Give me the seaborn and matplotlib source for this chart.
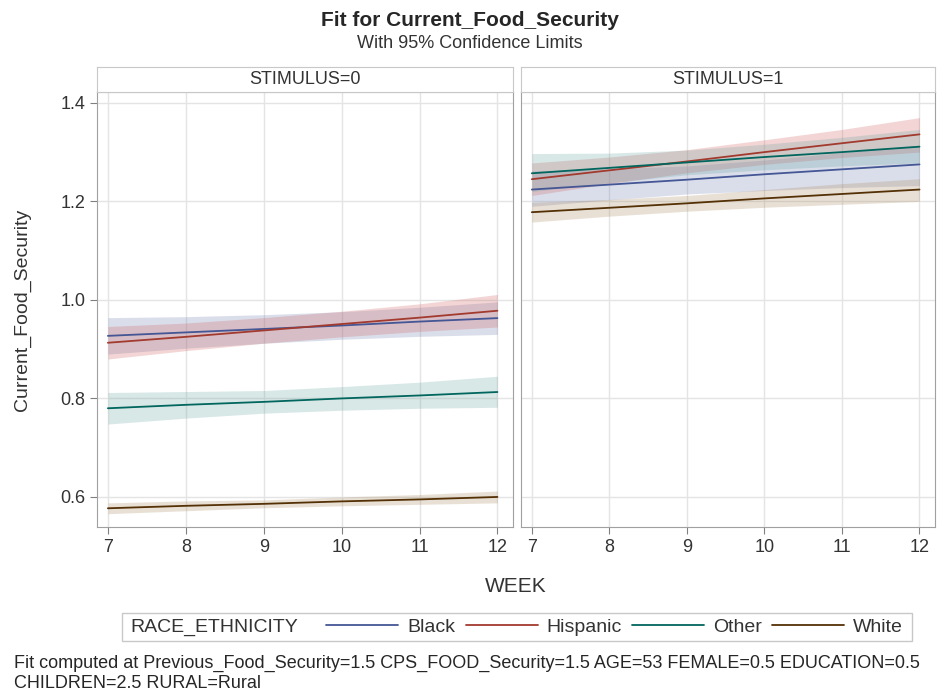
import numpy as np
import pandas as pd
import matplotlib.pyplot as plt
import seaborn as sns
from matplotlib.patches import Rectangle

weeks = [7, 8, 9, 10, 11, 12]
races = ['Black', 'Hispanic', 'Other', 'White']

# fitted values, STIMULUS=0
fit0 = {
    'Black':    [0.927, 0.934, 0.941, 0.948, 0.956, 0.963],
    'Hispanic': [0.913, 0.925, 0.938, 0.951, 0.964, 0.978],
    'Other':    [0.780, 0.787, 0.793, 0.800, 0.806, 0.813],
    'White':    [0.577, 0.582, 0.586, 0.591, 0.595, 0.600],
}
lo0 = {
    'Black':    [0.890, 0.902, 0.912, 0.920, 0.926, 0.930],
    'Hispanic': [0.880, 0.897, 0.912, 0.925, 0.936, 0.945],
    'Other':    [0.748, 0.760, 0.770, 0.776, 0.780, 0.782],
    'White':    [0.566, 0.572, 0.578, 0.582, 0.585, 0.588],
}
hi0 = {
    'Black':    [0.964, 0.966, 0.970, 0.976, 0.985, 0.996],
    'Hispanic': [0.946, 0.953, 0.964, 0.977, 0.992, 1.011],
    'Other':    [0.812, 0.814, 0.816, 0.824, 0.833, 0.845],
    'White':    [0.588, 0.592, 0.594, 0.600, 0.605, 0.612],
}
# fitted values, STIMULUS=1
fit1 = {
    'Black':    [1.224, 1.234, 1.244, 1.255, 1.265, 1.275],
    'Hispanic': [1.245, 1.263, 1.281, 1.300, 1.318, 1.336],
    'Other':    [1.257, 1.268, 1.279, 1.290, 1.300, 1.311],
    'White':    [1.178, 1.187, 1.196, 1.206, 1.215, 1.224],
}
lo1 = {
    'Black':    [1.190, 1.203, 1.215, 1.222, 1.228, 1.232],
    'Hispanic': [1.212, 1.236, 1.258, 1.275, 1.289, 1.300],
    'Other':    [1.220, 1.238, 1.254, 1.264, 1.272, 1.278],
    'White':    [1.158, 1.170, 1.180, 1.188, 1.194, 1.200],
}
hi1 = {
    'Black':    [1.262, 1.266, 1.272, 1.284, 1.299, 1.314],
    'Hispanic': [1.278, 1.290, 1.305, 1.325, 1.346, 1.370],
    'Other':    [1.297, 1.298, 1.304, 1.316, 1.330, 1.346],
    'White':    [1.198, 1.204, 1.212, 1.224, 1.236, 1.246],
}

line_colors = {'Black': '#445694', 'Hispanic': '#A23A2E', 'Other': '#01665E', 'White': '#543005'}
band_colors = {'Black': '#6F7EB3', 'Hispanic': '#D05B5B', 'Other': '#66A5A0', 'White': '#A9865B'}

rows = []
for stim, fit, lo, hi in [(0, fit0, lo0, hi0), (1, fit1, lo1, hi1)]:
    for r in races:
        for i, w in enumerate(weeks):
            rows.append({'STIMULUS': stim, 'RACE_ETHNICITY': r, 'WEEK': w,
                         'fit': fit[r][i], 'lo': lo[r][i], 'hi': hi[r][i]})
df = pd.DataFrame(rows)

sns.set_style('white')
plt.rcParams['font.family'] = ['Liberation Sans', 'DejaVu Sans']

fig = plt.figure(figsize=(9.42, 6.95), dpi=100)
W, H = 942, 695
panels = [(97, 513), (521, 935)]
top, bottom, strip = 92, 527, 25
txt = '#333333'

for k, (x0, x1) in enumerate(panels):
    ax = fig.add_axes([x0 / W, 1 - bottom / H, (x1 - x0) / W, (bottom - top) / H])
    sub = df[df.STIMULUS == k]
    for r in races:
        s = sub[sub.RACE_ETHNICITY == r]
        ax.fill_between(s.WEEK, s.lo, s.hi, color=band_colors[r], alpha=0.25, lw=0)
    sns.lineplot(data=sub, x='WEEK', y='fit', hue='RACE_ETHNICITY', palette=line_colors,
                 hue_order=races, ax=ax, lw=1.3, legend=False)
    ax.set_xlim(6.86, 12.2)
    ax.set_ylim(0.539, 1.422)
    ax.set_xticks(weeks)
    ax.set_yticks([0.6, 0.8, 1.0, 1.2, 1.4])
    ax.grid(True, color='#e4e4e4', lw=1)
    ax.set_axisbelow(True)
    for sp in ax.spines.values():
        sp.set_color('#a0a0a0')
    ax.tick_params(axis='both', which='both', direction='out', length=5, color='#808080',
                   labelsize=13, labelcolor=txt, bottom=True, left=True)
    ax.set_xlabel('')
    ax.set_ylabel('')
    if k == 0:
        ax.set_yticklabels(['0.6', '0.8', '1.0', '1.2', '1.4'])
    else:
        ax.tick_params(axis='y', left=False, labelleft=False)
    # header strip
    sax = fig.add_axes([x0 / W, 1 - top / H, (x1 - x0) / W, strip / H])
    sax.set_xticks([])
    sax.set_yticks([])
    for sp in sax.spines.values():
        sp.set_color('#c8c8c8')
    sax.text(0.5, 0.5, f'STIMULUS={k}', ha='center', va='center', fontsize=13, color=txt)

fig.text(470 / W, 1 - 20 / H, 'Fit for Current_Food_Security', ha='center', va='center',
         fontsize=15, fontweight='bold')
fig.text(470 / W, 1 - 43 / H, 'With 95% Confidence Limits', ha='center', va='center',
         fontsize=13, color=txt)
fig.text(22 / W, 1 - 310 / H, 'Current_Food_Security', rotation=90, ha='center', va='center',
         fontsize=14, color=txt)
fig.text(516 / W, 1 - 586 / H, 'WEEK', ha='center', va='center', fontsize=15, color=txt)

# legend: frame, title, entries
fig.patches.append(Rectangle((122 / W, 1 - 641 / H), 790 / W, 28 / H, transform=fig.transFigure,
                             fill=False, edgecolor='#c8c8c8', lw=1))
fig.text(130 / W, 1 - 627 / H, 'RACE_ETHNICITY', ha='left', va='center', fontsize=14, color=txt)
handles = [plt.Line2D([], [], color=line_colors[r], lw=1.3) for r in races]
fig.legend(handles, races, loc='center right', bbox_to_anchor=(905 / W, 1 - 627 / H),
           ncol=4, frameon=False, fontsize=14, handlelength=3.7, columnspacing=0.55,
           handletextpad=0.45, borderpad=0.1, borderaxespad=0, labelcolor=txt)

fig.text(14 / W, 1 - 663 / H,
         'Fit computed at Previous_Food_Security=1.5 CPS_FOOD_Security=1.5 AGE=53 FEMALE=0.5 EDUCATION=0.5',
         ha='left', va='center', fontsize=13)
fig.text(14 / W, 1 - 684 / H, 'CHILDREN=2.5 RURAL=Rural', ha='left', va='center', fontsize=13)

fig.savefig('out.png', dpi=100)
